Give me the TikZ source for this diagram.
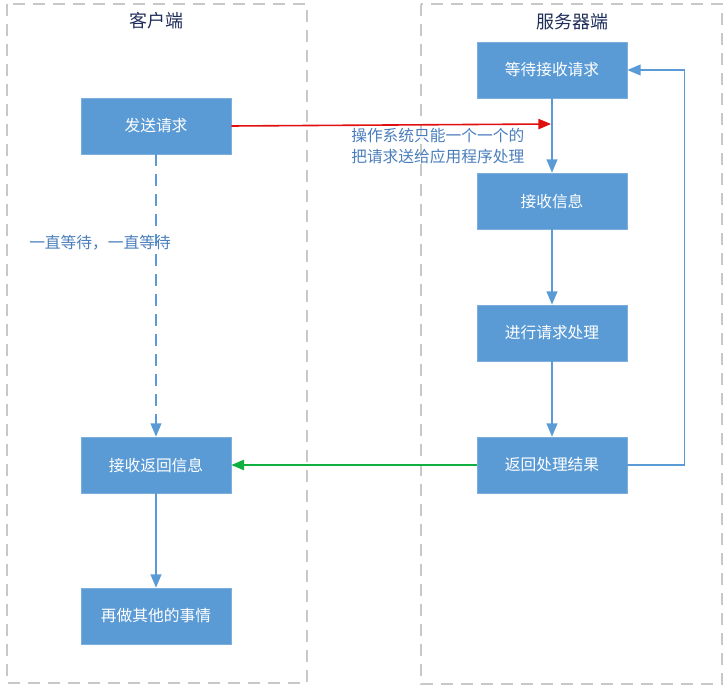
\documentclass[tikz,border=0pt]{standalone}
\usepackage{fontspec}
\setmainfont{Noto Sans CJK SC}
\usepackage{xcolor}
\usetikzlibrary{arrows}

\definecolor{azulcaja}{HTML}{5B9BD5}
\definecolor{azultexto}{HTML}{4A7EBB}
\definecolor{grismarco}{HTML}{C8C8C8}
\definecolor{titulo}{HTML}{1F2D5A}
\definecolor{rojoflecha}{HTML}{E01010}
\definecolor{verdeflecha}{HTML}{10B040}

\tikzset{
  caja/.style={rectangle, fill=azulcaja, draw=azulcaja!80!white, line width=0.6pt,
    minimum width=112.5pt, minimum height=42pt, inner sep=0pt,
    text=white, font=\fontsize{11.8}{13}\selectfont},
  marco/.style={draw=grismarco, line width=1.4pt, dash pattern=on 9pt off 6pt},
  flecha/.style={draw=azulcaja, line width=1.3pt, -triangle 45},
  titulo/.style={text=titulo, font=\fontsize{13.5}{15}\selectfont},
  nota/.style={text=azultexto, font=\fontsize{11.8}{15.75}\selectfont, align=left}
}

\begin{document}
\begin{tikzpicture}[x=0.75pt,y=-0.75pt]
    \useasboundingbox (0,0) rectangle (728,691);

    % Marcos de cliente y servidor
    \draw[marco] (7,4) rectangle (307,683);
    \draw[marco] (421,4) rectangle (722,684);
    \node[titulo] (tcliente) at (156,21) {客户端};
    \node[titulo] (tservidor) at (572,22) {服务器端};

    % Cajas del cliente
    \node[caja] (envio) at (156,126) {发送请求};
    \node[caja] (recibe) at (156,465) {接收返回信息};
    \node[caja] (otros) at (156,616) {再做其他的事情};

    % Cajas del servidor
    \node[caja] (espera) at (552,70) {等待接收请求};
    \node[caja] (info) at (552,201) {接收信息};
    \node[caja] (proceso) at (552,333) {进行请求处理};
    \node[caja] (resultado) at (552,465) {返回处理结果};

    % Flujo del servidor
    \draw[flecha] (espera) -- (info);
    \draw[flecha] (info) -- (proceso);
    \draw[flecha] (proceso) -- (resultado);
    \draw[flecha] (resultado.east) -- ++(57,0) |- (espera.east);

    % Peticion del cliente
    \coordinate (llegada) at (551,124);
    \draw[draw=rojoflecha, line width=1.2pt, -triangle 45] (envio.east) -- (llegada);
    \node[nota, anchor=west, inner sep=0pt] (sistema) at (351,146) {操作系统只能一个一个的\\把请求送给应用程序处理};

    % Espera del cliente
    \draw[flecha, dash pattern=on 9pt off 6pt] (envio) -- (recibe);
    \node[nota, anchor=west, inner sep=0pt] (espero) at (29,243) {一直等待，一直等待};

    % Respuesta
    \draw[draw=verdeflecha, line width=1.2pt, -triangle 45] (resultado) -- (recibe);
    \draw[flecha] (recibe) -- (otros);
\end{tikzpicture}
\end{document}
